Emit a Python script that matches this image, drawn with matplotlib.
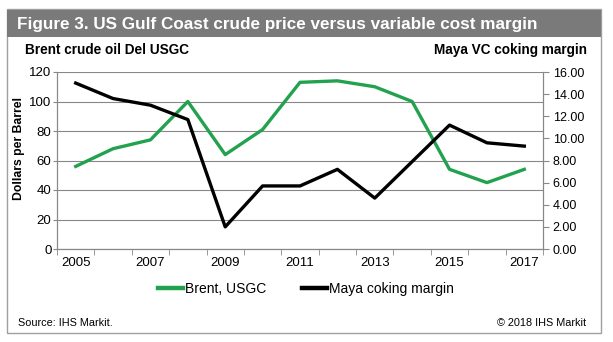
import matplotlib
matplotlib.use("Agg")
import matplotlib.pyplot as plt
from matplotlib.patches import Rectangle
import numpy as np

plt.rcParams['font.family'] = ['Liberation Sans', 'DejaVu Sans']

years = list(range(2005, 2018))
brent = [56, 68, 74, 100, 64, 81, 113, 114, 110, 100, 54, 45, 54]
maya = [15.0, 13.6, 13.0, 11.7, 2.0, 5.7, 5.7, 7.2, 4.6, 7.9, 11.2, 9.6, 9.3]
year_labels = [str(y) for y in years[::2]]

green = '#22a24f'
grey = '#888888'

W, H = 613, 342
fig = plt.figure(figsize=(W / 100, H / 100), dpi=100)

def fx(px):
    return px / W

def fy(py):
    return 1 - py / H

# outer frame and title bar
fig.patches.append(Rectangle((fx(7), fy(333)), fx(594), 324 / H,
                             transform=fig.transFigure, fill=False,
                             edgecolor='#a0a0a0', linewidth=1))
fig.patches.append(Rectangle((fx(7), fy(37)), fx(594), 27.5 / H,
                             transform=fig.transFigure, facecolor='#7a7a7a',
                             edgecolor='none'))
fig.text(fx(17), fy(24), 'Figure 3. US Gulf Coast crude price versus variable cost margin',
         color='white', fontsize=12.3, fontweight='bold', va='center')
fig.text(fx(25), fy(50), 'Brent crude oil Del USGC',
         fontsize=9.8, fontweight='bold', va='center')
fig.text(fx(587), fy(50), 'Maya VC coking margin',
         fontsize=9.8, fontweight='bold', va='center', ha='right')

ax = fig.add_axes([fx(57), fy(249), fx(486), 177 / H])
x = np.arange(len(years))
ax.plot(x, brent, color=green, linewidth=2.4, label='Brent, USGC')
ax.set_xlim(-0.5, len(years) - 0.5)
ax.set_ylim(0, 120)
ax.set_yticks(range(0, 121, 20))
ax.grid(axis='y', color=grey, linewidth=0.8)
ax.set_axisbelow(True)
ax.set_xticks(x[::2])
ax.set_xticklabels(year_labels)
ax.set_xticks(np.arange(-0.5, len(years), 1), minor=True)
ax.tick_params(axis='x', which='major', length=0, labelsize=9.5, pad=6)
ax.tick_params(axis='x', which='minor', length=4, color=grey, direction='out')
ax.tick_params(axis='y', length=3, color=grey, labelsize=9.5, pad=1)
ax.set_ylabel('Dollars per Barrel', fontsize=8.8, fontweight='bold')
ax.yaxis.set_label_coords((25 - 57) / 486, (249 - 149) / 177)
ax.spines['top'].set_visible(False)
for s in ['left', 'bottom', 'right']:
    ax.spines[s].set_color(grey)

ax2 = ax.twinx()
ax2.plot(x, maya, color='black', linewidth=2.4, label='Maya coking margin')
ax2.set_ylim(0, 16)
ax2.set_yticks(np.arange(0, 16.1, 2))
ax2.set_yticklabels([f'{v:.2f}' for v in np.arange(0, 16.1, 2)])
ax2.tick_params(axis='y', length=4, color=grey, labelsize=9, pad=3)
ax2.spines['top'].set_visible(False)
for s in ['left', 'bottom', 'right']:
    ax2.spines[s].set_color(grey)

h1, l1 = ax.get_legend_handles_labels()
h2, l2 = ax2.get_legend_handles_labels()
leg = fig.legend(h1 + h2, l1 + l2, loc='center', bbox_to_anchor=(fx(306), fy(289)),
                 ncol=2, frameon=False, fontsize=10, handlelength=1.8,
                 handletextpad=0.15, columnspacing=2.6)
for line in leg.get_lines():
    line.set_linewidth(3.2)

fig.text(fx(18), fy(323), 'Source: IHS Markit.', fontsize=7.8, va='center')
fig.text(fx(586), fy(323), '© 2018 IHS Markit', fontsize=7.8,
         va='center', ha='right')

fig.savefig('out.png', dpi=100)
